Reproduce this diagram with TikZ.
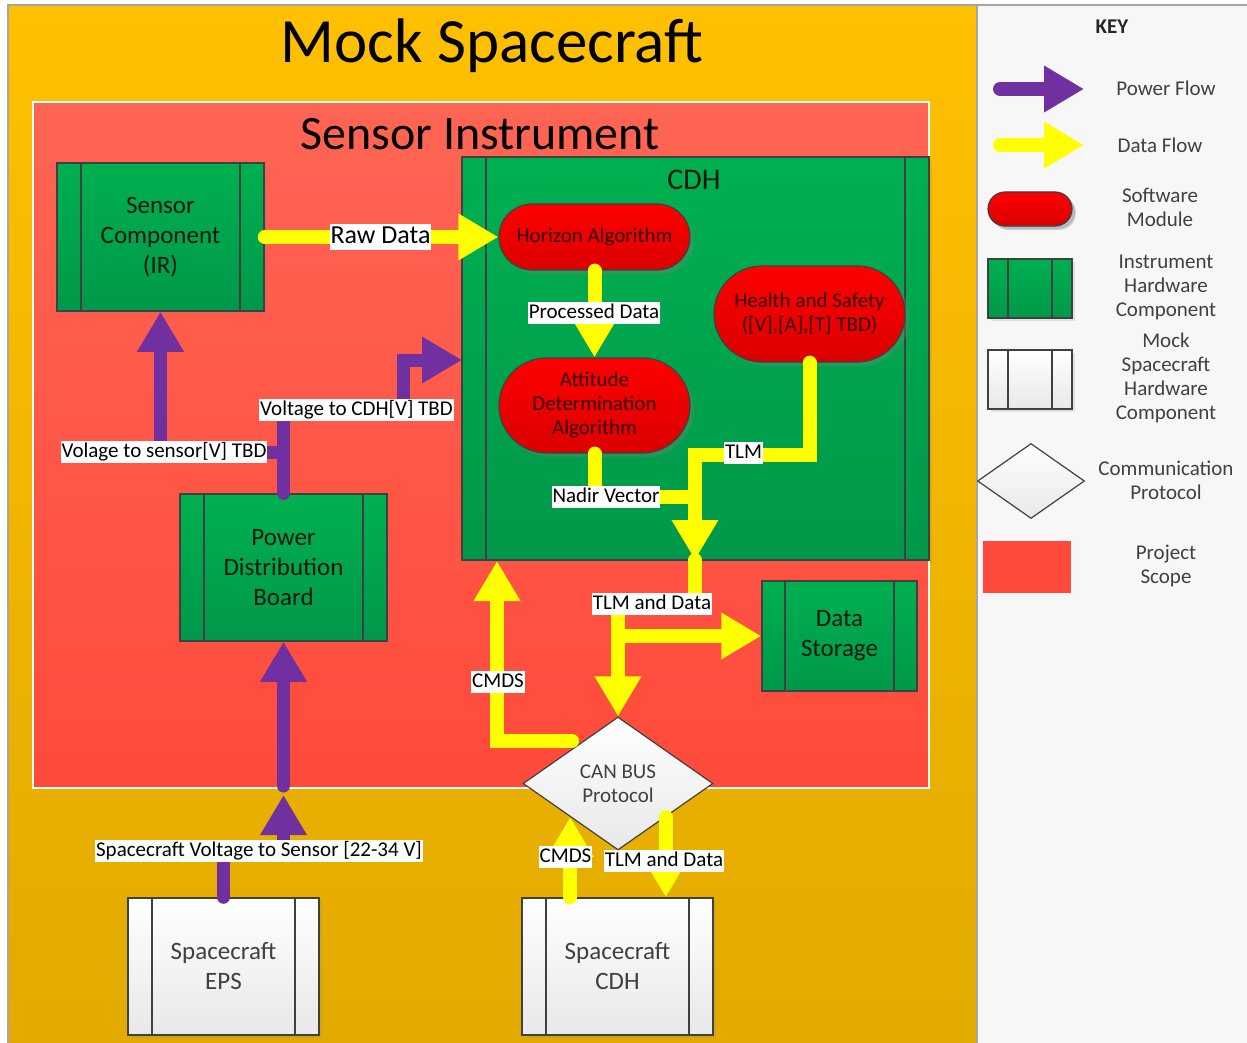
\documentclass[tikz,border=0pt]{standalone}
\usepackage{fontspec}
\setmainfont{Carlito}
\usetikzlibrary{arrows.meta,shapes.geometric,shapes.misc,shadows}

\definecolor{framegray}{HTML}{A6A6A6}
\definecolor{orangeTop}{HTML}{FFC000}
\definecolor{orangeBot}{HTML}{E2AA00}
\definecolor{keybg}{HTML}{F7F7F7}
\definecolor{scopeTop}{HTML}{FF6554}
\definecolor{scopeBot}{HTML}{FF4A3B}
\definecolor{hwTop}{HTML}{00B050}
\definecolor{hwBot}{HTML}{00984A}
\definecolor{hwText}{HTML}{101810}
\definecolor{edge}{HTML}{404040}
\definecolor{swTop}{HTML}{FF0000}
\definecolor{swBot}{HTML}{DA0000}
\definecolor{swText}{HTML}{300000}
\definecolor{scBot}{HTML}{E8E8E8}
\definecolor{scText}{HTML}{404040}
\definecolor{pwr}{HTML}{7030A0}
\definecolor{dat}{HTML}{FFFF00}
\definecolor{keyText}{HTML}{404040}

\newcommand\fsz[2]{\fontsize{#1}{#2}\selectfont}

\tikzset{
  craft/.style={draw=framegray, line width=2pt, top color=orangeTop, bottom color=orangeBot, inner sep=0},
  keypanel/.style={draw=framegray, line width=1.5pt, fill=keybg, inner sep=0},
  scopebox/.style={draw=white, line width=2pt, top color=scopeTop, bottom color=scopeBot, inner sep=0},
  hwbox/.style={draw=edge, line width=1.5pt, top color=hwTop, bottom color=hwBot,
    inner sep=0, align=center, font=\fsz{25}{30}, text=hwText,
    drop shadow={shadow xshift=3pt, shadow yshift=-3pt, opacity=.18},
    path picture={\draw[edge, line width=1.5pt]
      ([xshift=#1]path picture bounding box.north west) -- ([xshift=#1]path picture bounding box.south west)
      ([xshift=-#1]path picture bounding box.north east) -- ([xshift=-#1]path picture bounding box.south east);}},
  hwbox/.default=24pt,
  scbox/.style={hwbox=#1, top color=white, bottom color=scBot, text=scText},
  scbox/.default=24pt,
  swmod/.style={rounded rectangle, draw=edge, line width=1.2pt, top color=swTop, bottom color=swBot,
    minimum width=191pt, minimum height=66pt, inner sep=0, align=center,
    font=\fsz{21}{24}, text=swText,
    drop shadow={shadow xshift=4pt, shadow yshift=-4pt, opacity=.3}},
  protocol/.style={diamond, aspect=1.43, draw=edge, line width=1.2pt, top color=white, bottom color=scBot,
    inner sep=0, align=center, font=\fsz{21}{24}, text=keyText},
  pflow/.style={draw=pwr, line width=13pt, line cap=round, -{Triangle[width=44pt,length=40pt]}},
  dflow/.style={draw=dat, line width=14pt, line cap=round, -{Triangle[width=44pt,length=40pt]}},
  dline/.style={draw=dat, line width=14pt, line cap=round},
  lbl/.style={fill=white, inner xsep=1pt, inner ysep=1.5pt, text height=15pt, text depth=4pt,
    font=\fsz{21}{25}, text=black},
  keytxt/.style={align=center, font=\fsz{21}{24}, text=keyText},
}

\begin{document}
\begin{tikzpicture}[x=1pt,y=-1pt]
\useasboundingbox (0,0) rectangle (1247,1043);
\fill[white] (0,0) rectangle (1247,1043);

% spacecraft frame and key panel
\node[craft, minimum width=969pt, minimum height=1050pt] (craft) at (492.5,530) {};
\node[keypanel, minimum width=275pt, minimum height=1050pt] (keypanel) at (1114.5,530) {};
\node[font=\fsz{63}{70}] (crafttitle) at (492,46) {Mock Spacecraft};

% instrument scope
\node[scopebox, minimum width=896pt, minimum height=686pt] (scope) at (481,445) {};
\node[font=\fsz{48}{55}] (scopetitle) at (480,134) {Sensor Instrument};

% instrument hardware
\node[hwbox, minimum width=207pt, minimum height=148pt] (sensor) at (160.5,237) {Sensor\\Component\\(IR)};
\node[hwbox, minimum width=467pt, minimum height=403pt] (cdh) at (695.5,358.5) {};
\node[font=\fsz{30}{36}, text=hwText] (cdhtitle) at (694,180) {CDH};
\node[hwbox, minimum width=207pt, minimum height=147pt] (pdb) at (283.5,567.5) {Power\\Distribution\\Board};
\node[hwbox=23pt, minimum width=155pt, minimum height=110pt] (store) at (839.5,636) {Data\\Storage};

% software modules
\node[swmod] (horizon) at (594.5,237) {Horizon Algorithm};
\node[swmod, minimum height=95pt] (ada) at (594.5,405.5) {Attitude\\Determination\\Algorithm};
\node[swmod, minimum height=96pt] (hs) at (809.5,314) {Health and Safety\\([V],[A],[T] TBD)};

% bus and spacecraft hardware
\node[protocol, minimum width=190pt, minimum height=133pt] (can) at (618,783.5) {CAN BUS\\Protocol};
\node[scbox, minimum width=191pt, minimum height=137pt] (eps) at (223.5,966.5) {Spacecraft\\EPS};
\node[scbox, minimum width=191pt, minimum height=137pt] (sccdh) at (617.5,966.5) {Spacecraft\\CDH};

% routing points
\coordinate (vsbend) at (160.5,452);
\coordinate (vcstep) at (403,410);
\coordinate (vcend) at (462,360);
\coordinate (epsbend) at (283.5,850);
\coordinate (epstip) at (283.5,795);
\coordinate (pdbfeed) at (283.5,786);
\coordinate (nadirjoin) at (695,497);
\coordinate (tlmbend) at (809.5,455);
\coordinate (cdhout) at (695,560);
\coordinate (busrise) at (695,606);
\coordinate (busdrop) at (618,606);
\coordinate (storetap) at (618,636);
\coordinate (cmdsfoot) at (572,741);
\coordinate (cmdscorner) at (497,741);
\coordinate (cmdstip) at (497,561);

% power flow
\draw[pflow] (pdb.north) |- (vsbend) -- (sensor.south);
\draw[pflow] (pdb.north) |- (vcstep) |- (vcend);
\draw[pflow] (eps.north) |- (epsbend) -- (epstip);
\draw[pflow] (pdbfeed) -- (pdb.south);

% data flow
\draw[dflow] (sensor.east) -- (horizon.west);
\draw[dflow] (horizon.south) -- (ada.north);
\draw[dline] (ada.south) |- (nadirjoin);
\draw[dflow] (hs.south) -- (tlmbend) -| (cdhout);
\draw[dline] (cdhout) -- (busrise) -- (busdrop);
\draw[dflow] (busdrop) -- (can.north);
\draw[dflow] (storetap) -- (store.west);
\draw[dflow] (cmdsfoot) -- (cmdscorner) -- (cmdstip);
\draw[dflow] (sccdh.north -| can.south west) -- (can.south west);
\draw[dflow] (can.south east) -- (sccdh.north -| can.south east);

% connector labels
\node[lbl, font=\fsz{26}{30}, text height=18pt, text depth=5pt] (lraw) at (380.5,237) {Raw Data};
\node[lbl] (lproc) at (594,313) {Processed Data};
\node[lbl] (lnadir) at (606,497) {Nadir Vector};
\node[lbl] (ltlm) at (743.5,453) {TLM};
\node[lbl] (ltlmdata) at (652,604) {TLM and Data};
\node[lbl] (lcmds) at (498,682) {CMDS};
\node[lbl] (lvcdh) at (356.5,410) {Voltage to CDH[V] TBD};
\node[lbl] (lvsens) at (164,452) {Volage to sensor[V] TBD};
\node[lbl] (lvsc) at (259,851) {Spacecraft Voltage to Sensor [22-34 V]};
\node[lbl] (lcmdsb) at (565.5,857) {CMDS};
\node[lbl] (ltlmb) at (664,861) {TLM and Data};

% key
\node[font=\bfseries\fsz{21}{24}, text=black!85] (keytitle) at (1112,27) {KEY};
\coordinate (kpA) at (1000,89);
\coordinate (kpB) at (1084,89);
\draw[pflow, line width=14pt] (kpA) -- (kpB);
\node[keytxt] (kpower) at (1166,88) {Power Flow};
\coordinate (kdA) at (1000,145);
\coordinate (kdB) at (1084,145);
\draw[dflow] (kdA) -- (kdB);
\node[keytxt] (kdata) at (1160,145) {Data Flow};
\node[swmod, minimum width=84pt, minimum height=34pt, drop shadow={shadow xshift=3pt, shadow yshift=-3pt, opacity=.3}] (ksw) at (1030,209) {};
\node[keytxt] (kswtxt) at (1160,207) {Software\\Module};
\node[hwbox=20pt, minimum width=84pt, minimum height=59pt] (khw) at (1030,288.5) {};
\node[keytxt] (khwtxt) at (1166,287) {Instrument\\Hardware\\Component};
\node[scbox=20pt, minimum width=84pt, minimum height=59pt] (ksc) at (1030,379.5) {};
\node[keytxt] (ksctxt) at (1166,378) {Mock\\Spacecraft\\Hardware\\Component};
\node[protocol, minimum width=107pt, minimum height=75pt] (kprot) at (1031,481) {};
\node[keytxt] (kprottxt) at (1166,480) {Communication\\Protocol};
\node[fill=scopeBot, minimum width=88pt, minimum height=52pt, inner sep=0] (kscope) at (1027,567) {};
\node[keytxt] (kscopetxt) at (1166,566) {Project\\Scope};
\end{tikzpicture}
\end{document}
